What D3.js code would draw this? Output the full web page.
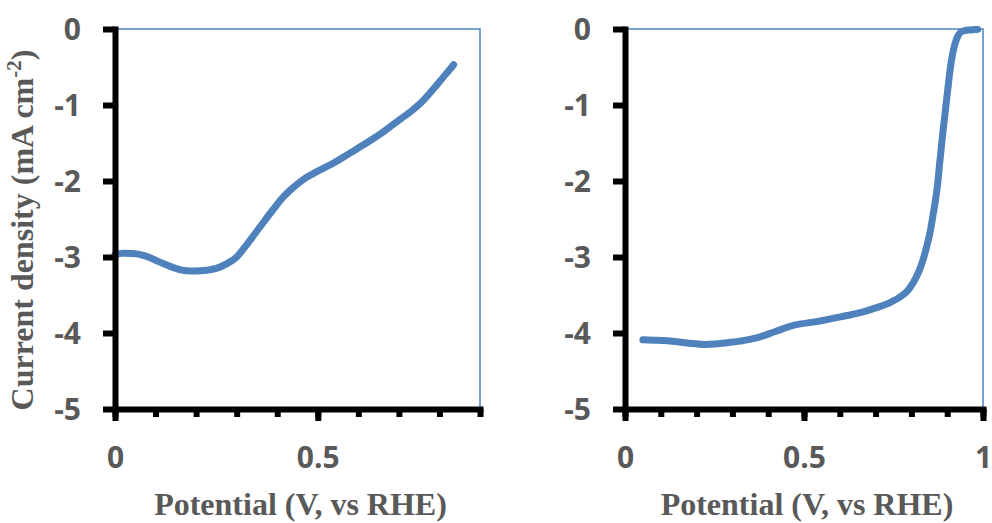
<!DOCTYPE html>
<html>
<head>
<meta charset="utf-8">
<script src="https://cdn.jsdelivr.net/npm/d3@7"></script>
<style>
  html, body { margin: 0; padding: 0; background: #fff; }
  svg { display: block; }
  .tick text { font-family: "Open Sans", sans-serif; font-weight: 700; font-size: 30px; fill: #595959; }
  .title { font-family: "Liberation Serif", "Times New Roman", serif; font-weight: 700; font-size: 32px; fill: #595959; }
</style>
</head>
<body>
<svg id="chart" width="992" height="523"></svg>
<script>
// Linear sweep voltammetry, two samples: potential (V vs RHE) and current density (mA cm^-2)
const leftPotential = [0.00, 0.02, 0.045, 0.07, 0.095, 0.12, 0.15, 0.175, 0.20, 0.225, 0.25, 0.275, 0.30, 0.32, 0.34, 0.365, 0.39, 0.41, 0.43, 0.45, 0.47, 0.50, 0.54, 0.58, 0.62, 0.66, 0.70, 0.735, 0.76, 0.785, 0.81, 0.835];
const leftCurrent   = [-2.97, -2.95, -2.955, -2.98, -3.03, -3.09, -3.15, -3.18, -3.185, -3.175, -3.15, -3.09, -3.00, -2.87, -2.73, -2.55, -2.375, -2.24, -2.13, -2.04, -1.96, -1.87, -1.76, -1.63, -1.50, -1.36, -1.20, -1.06, -0.94, -0.79, -0.63, -0.47];

const rightPotential = [0.05, 0.08, 0.11, 0.145, 0.18, 0.22, 0.26, 0.29, 0.33, 0.37, 0.42, 0.47, 0.535, 0.61, 0.66, 0.70, 0.74, 0.77, 0.79, 0.805, 0.82, 0.833, 0.845, 0.852, 0.86, 0.866, 0.873, 0.88, 0.887, 0.894, 0.901, 0.908, 0.915, 0.922, 0.93, 0.94, 0.95, 0.964, 0.975, 0.985];
const rightCurrent   = [-4.09, -4.095, -4.10, -4.115, -4.135, -4.15, -4.14, -4.125, -4.10, -4.06, -3.98, -3.90, -3.85, -3.78, -3.73, -3.67, -3.60, -3.52, -3.44, -3.34, -3.20, -3.03, -2.82, -2.68, -2.46, -2.29, -2.05, -1.72, -1.40, -1.11, -0.82, -0.54, -0.33, -0.19, -0.09, -0.035, -0.02, -0.013, -0.008, -0.005];

const yTicks = [0, -1, -2, -3, -4, -5];
const leftMajorX = [0, 0.5];
const leftMinorX = [0, 0.1, 0.2, 0.3, 0.4, 0.5, 0.6, 0.7, 0.8, 0.9];
const rightMajorX = [0, 0.5, 1];
const rightMinorX = [0, 0.1, 0.2, 0.3, 0.4, 0.5, 0.6, 0.7, 0.8, 0.9, 1];

const yTitle = "Current density (mA cm";
const xTitle = "Potential (V, vs RHE)";

const svg = d3.select("#chart");
const lineColor = "#4F81BD";
const plotTop = 29, plotBottom = 409;

const y = d3.scaleLinear().domain([-5, 0]).range([plotBottom, plotTop]);

function panel(xDomain, xRange, xs, ys, majorX, minorX) {
  const x = d3.scaleLinear().domain(xDomain).range(xRange);
  const g = svg.append("g");

  // plot-area frame (top and right edges)
  g.append("path")
    .attr("d", `M${xRange[0]},${plotTop}H${xRange[1]}V${plotBottom}`)
    .attr("fill", "none")
    .attr("stroke", lineColor)
    .attr("stroke-width", 1.5);

  // data curve
  const pts = xs.map((v, i) => [v, ys[i]]);
  g.append("path")
    .datum(pts)
    .attr("fill", "none")
    .attr("stroke", lineColor)
    .attr("stroke-width", 7)
    .attr("stroke-linecap", "round")
    .attr("stroke-linejoin", "round")
    .attr("d", d3.line().x(d => x(d[0])).y(d => y(d[1])).curve(d3.curveMonotoneX));

  // minor x ticks
  const minor = g.append("g")
    .attr("transform", `translate(0,${plotBottom})`)
    .call(d3.axisBottom(x).tickValues(minorX).tickSize(8).tickSizeOuter(0).tickFormat(""));
  minor.select(".domain").remove();

  // major x ticks + labels
  const xa = g.append("g")
    .attr("transform", `translate(0,${plotBottom})`)
    .call(d3.axisBottom(x).tickValues(majorX).tickSize(12).tickSizeOuter(0).tickPadding(26).tickFormat(d => String(d)));

  // y axis
  const ya = g.append("g")
    .attr("transform", `translate(${xRange[0]},0)`)
    .call(d3.axisLeft(y).tickValues(yTicks).tickSize(12).tickSizeOuter(0).tickPadding(22).tickFormat(d => String(d)));

  [minor, xa, ya].forEach(a => {
    a.selectAll("line").attr("stroke", "#000").attr("stroke-width", 6);
    a.select(".domain").attr("stroke", "#000").attr("stroke-width", 6).attr("stroke-linecap", "square");
  });
  ya.selectAll(".tick text").attr("dy", "0.36em");

  // x title
  svg.append("text")
    .attr("class", "title")
    .attr("x", (xRange[0] + xRange[1]) / 2 + 3)
    .attr("y", 515)
    .attr("text-anchor", "middle")
    .text(xTitle);
}

panel([0, 0.9], [115, 480], leftPotential, leftCurrent, leftMajorX, leftMinorX);
panel([0, 1], [625, 983], rightPotential, rightCurrent, rightMajorX, rightMinorX);

// y title with superscript
const yt = svg.append("text")
  .attr("class", "title")
  .attr("transform", "translate(33,230) rotate(-90)")
  .attr("text-anchor", "middle");
yt.append("tspan").text(yTitle);
yt.append("tspan").attr("dy", -12).style("font-size", "21px").text("-2");
yt.append("tspan").attr("dy", 12).text(")");
</script>
</body>
</html>
